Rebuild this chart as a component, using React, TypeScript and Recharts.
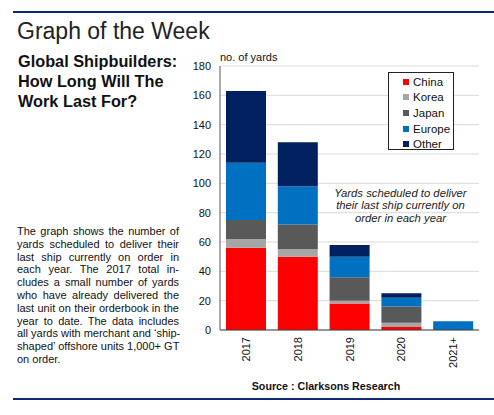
import { BarChart, Bar, XAxis, YAxis, CartesianGrid, Legend } from "recharts";

const years = ["2017", "2018", "2019", "2020", "2021+"];
const china = [56, 50, 18, 2, 0];
const korea = [6, 5, 2, 3, 0];
const japan = [13, 17, 16, 11, 0];
const europe = [39, 26, 14, 6, 6];
const other = [49, 30, 8, 3, 0];
const yTicks = [0, 20, 40, 60, 80, 100, 120, 140, 160, 180];

const seriesList = [
  { key: "China", color: "#ff0000" },
  { key: "Korea", color: "#a6a6a6" },
  { key: "Japan", color: "#595959" },
  { key: "Europe", color: "#0070c0" },
  { key: "Other", color: "#002060" },
];
const seriesOrder = seriesList.map((s) => s.key);

const data = years.map((y, i) => ({
  year: y,
  China: china[i],
  Korea: korea[i],
  Japan: japan[i],
  Europe: europe[i],
  Other: other[i],
}));

const paragraph = [
  "The graph shows the number of",
  "yards scheduled to deliver their",
  "last ship currently on order in",
  "each year. The 2017 total in-",
  "cludes a small number of yards",
  "who have already delivered the",
  "last unit on their orderbook in the",
  "year to date. The data includes",
  "all yards with merchant and \u2018ship-",
  "shaped\u2019 offshore units 1,000+ GT",
  "on order.",
];

const font = "Arial, 'Liberation Sans', Helvetica, sans-serif";
const navy = "#0d2a6e";

// rotated year labels, reading bottom to top, ending just under the axis
const YearTick = (props: any) => {
  const { x, payload } = props;
  return (
    <g transform={`translate(${x}, 337) rotate(-90)`}>
      <text x={0} y={0} dy={4} textAnchor="end" fontSize={11} fill="#111" fontFamily={font}>
        {payload.value}
      </text>
    </g>
  );
};

const LegendBox = (props: any) => {
  const items = [...(props.payload || [])].sort(
    (a: any, b: any) => seriesOrder.indexOf(a.value) - seriesOrder.indexOf(b.value)
  );
  return (
    <div
      style={{
        border: "1px solid #222",
        background: "#fff",
        width: 66,
        height: 78,
        boxSizing: "border-box",
        padding: "1px 0 0 14px",
        fontFamily: font,
        fontSize: 11.5,
      }}
    >
      {items.map((p: any) => (
        <div key={p.value} style={{ height: 15.6, display: "flex", alignItems: "center", color: "#111" }}>
          <span style={{ width: 6, height: 6, background: p.color, marginRight: 4, display: "inline-block" }} />
          {p.value}
        </div>
      ))}
    </div>
  );
};

export default function App() {
  return (
    <div
      style={{
        position: "absolute",
        left: 0,
        top: 0,
        width: 494,
        height: 415,
        background: "#fff",
        fontFamily: font,
        color: "#111",
        overflow: "hidden",
      }}
    >
      <div style={{ position: "absolute", left: 13, top: 11, width: 481, height: 2, background: navy }} />
      <div style={{ position: "absolute", left: 17, top: 18, fontSize: 23, lineHeight: "26px", color: "#222" }}>
        Graph of the Week
      </div>
      <div style={{ position: "absolute", left: 18, top: 51, fontSize: 16.3, fontWeight: "bold", lineHeight: "20px" }}>
        Global Shipbuilders:
        <br />
        How Long Will The
        <br />
        Work Last For?
      </div>
      <div style={{ position: "absolute", left: 17, top: 225, width: 162, fontSize: 11, lineHeight: "12.8px" }}>
        {paragraph.map((line, i) => (
          <div
            key={i}
            style={{
              textAlign: "justify",
              textAlignLast: i === paragraph.length - 1 ? "left" : "justify",
              whiteSpace: "nowrap",
            }}
          >
            {line}
          </div>
        ))}
      </div>

      <div style={{ position: "absolute", left: 0, top: 0 }}>
        <BarChart
          width={494}
          height={415}
          data={data}
          margin={{ top: 66, right: 15, left: 180, bottom: 45 }}
          barCategoryGap={6}
        >
          <CartesianGrid vertical={false} stroke="#d9d9d9" />
          <XAxis
            dataKey="year"
            height={40}
            axisLine={{ stroke: "#404040" }}
            tickLine={false}
            tick={<YearTick />}
            interval={0}
          />
          <YAxis
            width={40}
            domain={[0, 180]}
            ticks={yTicks}
            axisLine={{ stroke: "#595959" }}
            tickLine={false}
            tick={{ fontSize: 11, fill: "#111", fontFamily: font }}
            tickMargin={3}
          />
          <Legend
            content={<LegendBox />}
            wrapperStyle={{ position: "absolute", left: 388, top: 72, width: 0, height: 0, overflow: "visible" }}
          />
          {seriesList.map((s) => (
            <Bar key={s.key} dataKey={s.key} stackId="a" fill={s.color} isAnimationActive={false} />
          ))}
        </BarChart>
      </div>

      <div style={{ position: "absolute", left: 220, top: 51, fontSize: 11 }}>no. of yards</div>
      <div
        style={{
          position: "absolute",
          left: 320,
          top: 187,
          width: 161,
          textAlign: "center",
          fontSize: 11.3,
          fontStyle: "italic",
          lineHeight: "12.3px",
          color: "#222",
        }}
      >
        Yards scheduled to deliver
        <br />
        their last ship currently on
        <br />
        order in each year
      </div>
      <div
        style={{
          position: "absolute",
          left: 226,
          top: 380,
          width: 200,
          textAlign: "center",
          fontSize: 10.7,
          fontWeight: "bold",
        }}
      >
        Source : Clarksons Research
      </div>
      <div style={{ position: "absolute", left: 13, top: 398, width: 481, height: 2, background: navy }} />
    </div>
  );
}
